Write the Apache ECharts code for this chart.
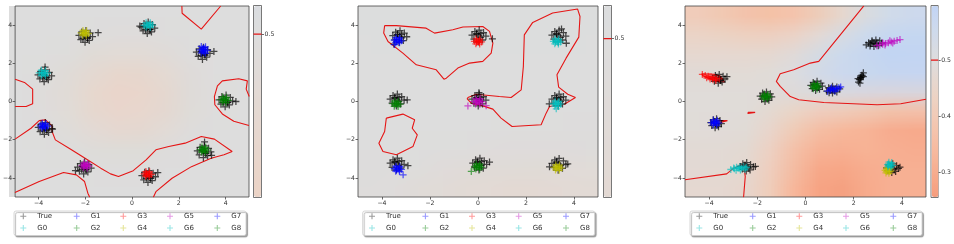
<!DOCTYPE html>
<html><head><meta charset="utf-8">
<script src="https://cdn.jsdelivr.net/npm/echarts@6/dist/echarts.min.js"></script>
<style>
html,body{margin:0;padding:0;background:#fff;width:954px;height:244px;overflow:hidden;}
#main{position:absolute;left:0;top:0;width:954px;height:244px;z-index:2;}
.heat{position:absolute;width:10px;height:10px;transform-origin:0 0;z-index:1;}
</style></head><body>
<div id="h1" class="heat"></div><div id="h2" class="heat"></div><div id="h3" class="heat"></div>
<div id="main"></div>
<script>
// ---------------- DATA ----------------
const SERIES_NAMES = ['True','G0','G1','G2','G3','G4','G5','G6','G7','G8'];
const AXIS_TICKS = [-4,-2,0,2,4];
const CONTOUR_LEVEL = 0.5;
const CBAR1_RANGE = [0.44, 0.5105];  const CBAR1_TICKS = [0.5];
const CBAR2_RANGE = [0.475, 0.5052]; const CBAR2_TICKS = [0.5];
const CBAR3_RANGE = [0.256, 0.597];  const CBAR3_TICKS = [0.3, 0.4, 0.5];
const CELL_CENTERS = [-4.5,-3.5,-2.5,-1.5,-0.5,0.5,1.5,2.5,3.5,4.5];

// background fields, rows from y=4.5 (top) to y=-4.5, columns x=-4.5..4.5
const P1_FIELD = [
 [0.50,0.50,0.50,0.50,0.50,0.50,0.50,0.50,0.50,0.50],
 [0.50,0.50,0.50,0.50,0.50,0.50,0.50,0.50,0.50,0.50],
 [0.50,0.50,0.50,0.49,0.485,0.485,0.49,0.50,0.50,0.50],
 [0.50,0.50,0.49,0.475,0.465,0.465,0.475,0.49,0.50,0.50],
 [0.50,0.495,0.485,0.465,0.45,0.45,0.465,0.485,0.50,0.50],
 [0.50,0.495,0.485,0.465,0.45,0.45,0.465,0.485,0.495,0.50],
 [0.50,0.50,0.49,0.475,0.465,0.465,0.475,0.49,0.50,0.50],
 [0.50,0.50,0.50,0.49,0.485,0.485,0.49,0.50,0.50,0.50],
 [0.50,0.50,0.50,0.50,0.495,0.495,0.50,0.50,0.50,0.50],
 [0.50,0.50,0.50,0.50,0.50,0.50,0.50,0.50,0.50,0.50]
];
const P2_FIELD = [
 [0.503,0.503,0.503,0.503,0.503,0.503,0.503,0.503,0.503,0.503],
 [0.502,0.502,0.502,0.502,0.502,0.502,0.502,0.502,0.502,0.502],
 [0.501,0.501,0.501,0.501,0.501,0.501,0.501,0.501,0.501,0.501],
 [0.500,0.500,0.500,0.500,0.500,0.500,0.500,0.500,0.500,0.500],
 [0.500,0.500,0.500,0.500,0.500,0.500,0.500,0.500,0.500,0.500],
 [0.500,0.500,0.500,0.500,0.500,0.500,0.500,0.500,0.500,0.500],
 [0.500,0.500,0.500,0.500,0.500,0.500,0.499,0.499,0.499,0.499],
 [0.500,0.500,0.500,0.500,0.500,0.498,0.495,0.495,0.495,0.495],
 [0.500,0.500,0.498,0.495,0.490,0.488,0.487,0.487,0.488,0.490],
 [0.495,0.495,0.490,0.485,0.480,0.478,0.476,0.475,0.478,0.480]
];
const P3_FIELD = [
 [0.40,0.38,0.36,0.34,0.35,0.38,0.43,0.49,0.53,0.55],
 [0.44,0.43,0.42,0.41,0.42,0.45,0.50,0.55,0.57,0.58],
 [0.46,0.46,0.46,0.46,0.47,0.51,0.55,0.57,0.59,0.59],
 [0.48,0.48,0.48,0.48,0.50,0.54,0.57,0.58,0.59,0.59],
 [0.49,0.49,0.49,0.49,0.50,0.53,0.55,0.56,0.56,0.56],
 [0.49,0.49,0.49,0.48,0.46,0.45,0.44,0.43,0.41,0.40],
 [0.49,0.49,0.49,0.47,0.42,0.37,0.35,0.33,0.30,0.29],
 [0.48,0.48,0.48,0.45,0.39,0.33,0.32,0.33,0.31,0.30],
 [0.48,0.48,0.48,0.44,0.37,0.30,0.29,0.31,0.32,0.31],
 [0.47,0.47,0.47,0.43,0.35,0.28,0.26,0.29,0.31,0.31]
];

// contour lines at level 0.5
const P1_CONTOURS = [
 [[2.13,5.0],[2.14,4.62],[2.96,3.79],[3.79,5.0]],
 [[-5.0,1.17],[-4.60,1.0],[-4.25,0.65],[-4.25,-0.12],[-4.53,-0.26],[-5.0,-0.26]],
 [[5.01,0.26],[4.88,0.65],[4.93,1.08],[4.56,1.19],[3.86,1.08],[3.65,0.82],[3.52,0.26],[3.54,-0.17],[3.86,-0.65],[4.35,-1.03],[5.0,-1.26]],
 [[-5.0,-1.97],[-4.32,-1.40],[-3.97,-1.00],[-3.70,-0.96],[-3.42,-1.28],[-3.42,-1.57],[-3.28,-2.01],[-2.59,-2.53],[-1.89,-3.06],[-1.34,-3.49],[-0.92,-3.79],[-0.58,-3.93],[0.05,-3.62],[0.60,-3.06],[1.02,-2.53],[1.57,-2.36],[2.27,-2.18],[2.96,-1.83],[3.52,-1.97],[4.28,-2.62],[3.93,-2.79],[3.38,-2.97],[2.54,-3.41],[1.71,-4.02],[1.02,-4.72],[0.91,-5.01]],
 [[-5.01,-4.77],[-3.97,-4.19],[-2.93,-3.72],[-2.38,-3.84],[-2.03,-4.19],[-1.89,-4.80],[-1.81,-5.01]]
];
const P2_CONTOURS = [
 [[-3.89,3.97],[-3.40,3.97],[-2.16,3.84],[-1.81,3.58],[-1.05,3.76],[-0.63,3.90],[0.20,3.93],[0.48,3.67],[0.62,3.06],[0.55,2.53],[0.20,2.10],[-0.35,2.01],[-0.84,1.75],[-1.32,1.22],[-1.42,1.17],[-1.74,1.66],[-2.57,1.92],[-3.13,2.53],[-3.75,3.14],[-3.93,3.58],[-3.89,3.97]],
 [[-0.42,0.21],[-0.08,0.38],[0.89,0.26],[1.38,0.21],[1.80,0.61],[1.89,1.83],[1.93,3.49],[2.28,4.14],[3.11,4.63],[4.15,4.84],[4.25,4.45],[4.20,3.37],[3.67,2.27],[3.29,1.40],[3.36,0.75],[3.74,0.38],[4.06,0.21],[3.60,-0.14],[2.98,-0.26],[2.84,-0.61],[2.63,-1.22],[1.42,-1.31],[0.96,-0.87],[0.62,-0.40],[0.20,-0.23],[-0.28,-0.09],[-0.45,0.14],[-0.42,0.21]],
 [[-3.82,-0.87],[-3.13,-0.66],[-2.64,-0.96],[-2.74,-1.40],[-2.53,-1.75],[-2.71,-2.36],[-3.40,-2.79],[-3.96,-2.62],[-4.13,-2.18],[-3.89,-1.57],[-3.82,-0.87]]
];
const P3_CONTOURS = [
 [[2.42,5.01],[0.55,2.10],[0.20,2.01],[-0.49,1.66],[-1.05,1.45],[-1.21,1.05],[-1.05,0.79],[-0.63,0.26],[-0.28,0.09],[0.76,-0.05],[2.97,-0.17],[3.95,-0.12],[5.0,0.12]],
 [[-5.0,-4.10],[-3.27,-3.79],[-2.98,-3.49],[-2.57,-3.27],[-2.50,-3.93],[-2.57,-5.01]],
 [[-4.31,1.45],[-3.80,1.43],[-3.52,1.32],[-3.36,1.02],[-3.70,1.06],[-4.25,1.34],[-4.31,1.45]],
 [[-3.62,-1.00],[-3.24,-1.00],[-3.52,-1.10]],
 [[-2.39,-0.57],[-2.09,-0.57],[-2.09,-0.63],[-2.39,-0.63],[-2.39,-0.57]]
];

// scatter points: real samples ("True") and generated clusters G0..G8
const P1_TRUE = [
 [-2.27,3.46],[-2.15,3.64],[-1.97,3.72],[-1.79,3.59],[-1.69,3.40],[-1.83,3.20],[-2.01,3.10],[-2.19,3.24],[-1.99,3.42],[-1.45,3.60],[-2.10,3.30],[-1.90,3.30],[-2.07,3.50],[-1.91,3.34],
 [0.39,3.90],[0.51,4.08],[0.69,4.16],[0.87,4.03],[0.97,3.84],[0.83,3.64],[0.65,3.56],[0.47,3.70],[0.67,3.86],[0.33,3.95],[0.58,3.76],[0.78,3.76],[0.59,3.94],[0.75,3.78],
 [2.75,2.58],[2.87,2.76],[3.05,2.84],[3.23,2.71],[3.33,2.52],[3.19,2.32],[3.01,2.20],[2.83,2.36],[3.03,2.55],[3.50,2.62],[2.95,2.42],[3.12,2.42],[2.95,2.63],[3.11,2.47],
 [-4.02,1.40],[-3.90,1.58],[-3.72,1.66],[-3.54,1.53],[-3.44,1.34],[-3.58,1.14],[-3.76,1.04],[-3.94,1.18],[-3.74,1.36],[-3.72,1.80],[-3.82,1.24],[-3.64,1.24],[-3.82,1.44],[-3.66,1.28],
 [3.72,0.08],[3.84,0.26],[4.02,0.34],[4.20,0.21],[4.30,0.02],[4.16,-0.18],[3.98,-0.28],[3.80,-0.14],[4.00,0.04],[4.44,0.00],[4.10,-0.06],[3.90,-0.06],[3.92,0.12],[4.08,-0.04],
 [-4.01,-1.36],[-3.89,-1.18],[-3.71,-1.10],[-3.53,-1.23],[-3.43,-1.42],[-3.57,-1.62],[-3.75,-1.72],[-3.93,-1.58],[-3.73,-1.40],[-3.40,-1.45],[-3.82,-1.50],[-3.64,-1.50],[-3.81,-1.32],[-3.65,-1.48],
 [-2.33,-3.43],[-2.21,-3.25],[-2.03,-3.17],[-1.85,-3.30],[-1.75,-3.49],[-1.89,-3.69],[-2.07,-3.79],[-2.25,-3.65],[-2.05,-3.47],[-2.42,-3.62],[-2.15,-3.56],[-1.96,-3.58],[-2.13,-3.39],[-1.97,-3.55],
 [0.42,-3.88],[0.54,-3.70],[0.72,-3.62],[0.90,-3.75],[1.00,-3.94],[0.86,-4.14],[0.68,-4.24],[0.50,-4.10],[0.70,-3.92],[1.10,-3.72],[0.61,-4.02],[0.80,-4.02],[0.62,-3.84],[0.78,-4.00],
 [2.79,-2.58],[2.91,-2.40],[3.09,-2.32],[3.27,-2.45],[3.37,-2.64],[3.23,-2.84],[3.05,-2.94],[2.87,-2.80],[3.07,-2.62],[3.40,-2.82],[3.10,-2.12],[3.16,-2.72],[2.99,-2.54],[3.15,-2.70]
];
const P1_G0 = [[0.52,3.98],[0.60,4.12],[0.78,4.12],[0.88,4.00],[0.78,3.88],[0.60,3.90],[0.70,4.00],[0.64,4.05],[0.76,4.05],[0.64,3.95],[0.76,3.95]];
const P1_G1 = [[2.90,2.70],[2.96,2.88],[3.14,2.86],[3.22,2.68],[3.14,2.52],[2.96,2.54],[3.06,2.70],[3.06,2.82],[3.06,2.58],[3.00,2.76],[3.12,2.76],[3.00,2.64],[3.12,2.64]];
const P1_G2 = [[3.80,0.10],[3.88,0.24],[4.04,0.22],[4.12,0.06],[4.02,-0.06],[3.86,-0.04],[3.96,0.09],[3.90,0.14],[4.02,0.14],[3.90,0.04],[4.02,0.04]];
const P1_G3 = [[0.52,-3.79],[0.59,-3.67],[0.75,-3.68],[0.82,-3.82],[0.73,-3.93],[0.58,-3.91],[0.67,-3.80],[0.61,-3.75],[0.73,-3.75],[0.61,-3.85],[0.73,-3.85]];
const P1_G4 = [[-2.18,3.59],[-2.10,3.72],[-1.94,3.70],[-1.87,3.56],[-1.96,3.45],[-2.12,3.47],[-2.03,3.58],[-2.09,3.63],[-1.97,3.63],[-2.09,3.53],[-1.97,3.53]];
const P1_G5 = [[-2.14,-3.36],[-2.06,-3.22],[-1.90,-3.24],[-1.83,-3.38],[-1.92,-3.49],[-2.08,-3.47],[-1.99,-3.35],[-2.05,-3.30],[-1.93,-3.30],[-2.05,-3.40],[-1.93,-3.40]];
const P1_G6 = [[-3.97,1.50],[-3.88,1.63],[-3.70,1.62],[-3.62,1.48],[-3.70,1.35],[-3.88,1.36],[-3.79,1.48],[-3.85,1.53],[-3.73,1.53],[-3.85,1.43],[-3.73,1.43]];
const P1_G7 = [[-3.92,-1.27],[-3.84,-1.14],[-3.68,-1.15],[-3.61,-1.29],[-3.70,-1.40],[-3.86,-1.40],[-3.77,-1.28],[-3.83,-1.23],[-3.71,-1.23],[-3.83,-1.33],[-3.71,-1.33]];
const P1_G8 = [[2.91,-2.52],[2.99,-2.38],[3.15,-2.40],[3.22,-2.55],[3.13,-2.67],[2.97,-2.65],[3.06,-2.53],[3.00,-2.48],[3.12,-2.48],[3.00,-2.58],[3.12,-2.58]];

const P2_TRUE = [
 [-3.55,3.45],[-3.43,3.63],[-3.25,3.71],[-3.07,3.58],[-2.97,3.39],[-3.11,3.19],[-3.29,3.09],[-3.47,3.23],[-3.27,3.41],[-3.50,3.00],[-3.36,3.52],[-3.18,3.52],[-3.35,3.49],[-3.19,3.33],
 [-0.25,3.48],[-0.13,3.66],[0.05,3.74],[0.23,3.61],[0.33,3.42],[0.19,3.22],[0.01,3.12],[-0.17,3.26],[0.03,3.44],[0.60,3.28],[-0.06,3.55],[0.12,3.55],[-0.05,3.52],[0.11,3.36],
 [3.08,3.48],[3.20,3.66],[3.38,3.74],[3.56,3.61],[3.66,3.42],[3.52,3.22],[3.34,3.12],[3.16,3.26],[3.36,3.44],[3.68,3.05],[3.48,3.80],[3.27,3.55],[3.28,3.52],[3.44,3.36],
 [-3.66,0.13],[-3.54,0.31],[-3.36,0.39],[-3.18,0.26],[-3.08,0.07],[-3.22,-0.13],[-3.40,-0.23],[-3.58,-0.09],[-3.38,0.09],[-2.95,0.08],[-3.47,0.20],[-3.29,0.20],[-3.46,0.17],[-3.30,0.01],
 [-0.25,0.13],[-0.13,0.31],[0.05,0.39],[0.23,0.26],[0.33,0.07],[0.19,-0.13],[0.01,-0.23],[-0.17,-0.09],[0.03,0.09],[0.04,0.46],[-0.06,0.20],[0.12,0.20],[-0.05,0.17],[0.11,0.01],
 [3.08,0.13],[3.20,0.31],[3.38,0.39],[3.56,0.26],[3.66,0.07],[3.52,-0.13],[3.34,-0.23],[3.16,-0.09],[3.36,0.09],[2.97,-0.12],[3.27,0.20],[3.45,0.20],[3.28,0.17],[3.44,0.01],
 [-3.66,-3.23],[-3.54,-3.05],[-3.36,-2.97],[-3.18,-3.10],[-3.08,-3.29],[-3.22,-3.49],[-3.40,-3.59],[-3.58,-3.45],[-3.38,-3.27],[-2.92,-3.36],[-3.47,-3.15],[-3.29,-3.15],[-3.46,-3.19],[-3.30,-3.35],
 [-0.22,-3.23],[-0.10,-3.05],[0.08,-2.97],[0.26,-3.10],[0.36,-3.29],[0.22,-3.49],[0.04,-3.59],[-0.14,-3.45],[0.06,-3.27],[0.48,-3.17],[-0.03,-3.15],[0.15,-3.15],[-0.02,-3.19],[0.14,-3.35],
 [3.08,-3.24],[3.20,-3.06],[3.38,-2.98],[3.56,-3.11],[3.66,-3.30],[3.52,-3.50],[3.34,-3.60],[3.16,-3.46],[3.36,-3.28],[3.74,-3.27],[2.98,-3.42],[3.27,-3.16],[3.28,-3.20],[3.44,-3.36]
];
const P2_G0 = [[3.14,3.15],[3.21,3.28],[3.37,3.27],[3.44,3.12],[3.35,3.01],[3.20,3.02],[3.29,3.14],[3.23,3.19],[3.35,3.19],[3.23,3.09],[3.35,3.09]];
const P2_G1 = [[-3.49,3.21],[-3.42,3.34],[-3.26,3.33],[-3.19,3.18],[-3.27,3.07],[-3.43,3.08],[-3.34,3.20],[-3.48,2.98],[-3.40,3.25],[-3.28,3.25],[-3.40,3.15],[-3.28,3.15]];
const P2_G2 = [[-3.55,-0.11],[-3.48,0.02],[-3.32,0.01],[-3.25,-0.14],[-3.33,-0.26],[-3.49,-0.25],[-3.40,-0.12],[-3.46,-0.07],[-3.34,-0.07],[-3.46,-0.17],[-3.34,-0.17]];
const P2_G3 = [[-0.15,3.15],[-0.08,3.28],[0.08,3.27],[0.15,3.12],[0.07,3.01],[-0.09,3.02],[0.00,3.14],[-0.06,3.19],[0.06,3.19],[-0.06,3.09],[0.06,3.09]];
const P2_G4 = [[3.17,-3.45],[3.24,-3.32],[3.40,-3.33],[3.47,-3.48],[3.39,-3.60],[3.23,-3.58],[3.32,-3.46],[3.26,-3.41],[3.38,-3.41],[3.26,-3.51],[3.38,-3.51]];
const P2_G5 = [[-0.18,0.01],[-0.09,0.15],[0.09,0.14],[0.18,-0.01],[0.08,-0.14],[-0.10,-0.13],[0.00,0.00],[-0.42,-0.23],[0.34,-0.22],[-0.06,0.05],[0.06,0.05],[-0.06,-0.05],[0.06,-0.05]];
const P2_G6 = [[3.14,-0.11],[3.21,0.02],[3.37,0.01],[3.44,-0.14],[3.35,-0.26],[3.20,-0.25],[3.29,-0.12],[3.26,-0.38],[3.23,-0.07],[3.35,-0.07],[3.23,-0.17],[3.35,-0.17]];
const P2_G7 = [[-3.49,-3.52],[-3.42,-3.39],[-3.26,-3.40],[-3.19,-3.55],[-3.27,-3.67],[-3.43,-3.65],[-3.34,-3.53],[-3.12,-3.84],[-3.40,-3.48],[-3.28,-3.48],[-3.40,-3.58],[-3.28,-3.58]];
const P2_G8 = [[-0.15,-3.40],[-0.08,-3.27],[0.08,-3.28],[0.15,-3.43],[0.07,-3.55],[-0.09,-3.53],[0.00,-3.41],[-0.28,-3.66],[-0.06,-3.36],[0.06,-3.36],[-0.06,-3.46],[0.06,-3.46]];

const P3_TRUE = [
 [-3.86,1.22],[-3.74,1.36],[-3.58,1.42],[-3.42,1.32],[-3.34,1.18],[-3.46,1.02],[-3.62,0.96],[-3.78,1.06],[-3.61,1.18],[-3.26,1.30],[-3.52,1.12],[-3.69,1.26],[-3.53,1.10],
 [-3.93,-1.10],[-3.83,-0.96],[-3.69,-0.90],[-3.55,-1.00],[-3.49,-1.16],[-3.61,-1.32],[-3.75,-1.38],[-3.89,-1.26],[-3.71,-1.14],[-3.79,-1.06],[-3.63,-1.22],
 [-1.88,0.28],[-1.78,0.44],[-1.62,0.50],[-1.46,0.40],[-1.40,0.24],[-1.52,0.06],[-1.68,0.00],[-1.82,0.12],[-1.64,0.26],[-1.72,0.34],[-1.56,0.18],
 [-2.70,-3.40],[-2.60,-3.26],[-2.44,-3.20],[-2.28,-3.30],[-2.16,-3.42],[-2.30,-3.58],[-2.46,-3.64],[-2.62,-3.54],[-2.43,-3.41],[-2.08,-3.40],[-2.51,-3.33],[-2.35,-3.49],
 [0.22,0.84],[0.32,1.00],[0.48,1.06],[0.64,0.96],[0.70,0.80],[0.58,0.64],[0.42,0.58],[0.28,0.68],[0.45,0.82],[0.37,0.90],[0.53,0.74],
 [0.88,0.54],[0.96,0.72],[1.12,0.80],[1.30,0.76],[1.42,0.66],[1.30,0.50],[1.12,0.44],[0.98,0.46],[1.13,0.61],[1.05,0.66],[1.21,0.56],
 [2.20,1.02],[2.24,1.14],[2.28,1.26],[2.34,1.38],[2.40,1.50],[2.18,1.20],[2.40,1.30],[2.31,1.26],[2.26,0.96],[2.27,1.18],[2.35,1.34],
 [2.52,2.96],[2.62,3.08],[2.76,3.18],[2.92,3.22],[3.08,3.18],[3.16,3.06],[3.02,2.92],[2.84,2.88],[2.68,2.90],[2.84,3.06],[2.96,3.06],[2.70,3.02],[2.76,3.12],[2.92,3.00],
 [3.36,-3.48],[3.46,-3.32],[3.62,-3.26],[3.78,-3.36],[3.86,-3.50],[3.74,-3.66],[3.58,-3.72],[3.42,-3.62],[3.60,-3.49],[3.92,-3.44],[3.52,-3.41],[3.68,-3.57]
];
const P3_G0 = [[-3.10,-3.56],[-2.98,-3.48],[-2.86,-3.44],[-2.72,-3.42],[-2.58,-3.40],[-2.44,-3.44],[-2.52,-3.56],[-2.70,-3.58],[-2.88,-3.60],[-2.75,-3.50],[-2.95,-3.52],[-2.80,-3.50],[-2.65,-3.48],[-2.50,-3.48]];
const P3_G1 = [[-3.90,-1.10],[-3.82,-0.97],[-3.66,-0.98],[-3.60,-1.12],[-3.68,-1.24],[-3.84,-1.23],[-3.75,-1.10],[-3.81,-1.05],[-3.69,-1.05],[-3.81,-1.15],[-3.69,-1.15]];
const P3_G2 = [[-1.78,0.27],[-1.71,0.39],[-1.56,0.38],[-1.50,0.24],[-1.58,0.13],[-1.73,0.14],[-1.64,0.26],[-1.70,0.31],[-1.58,0.31],[-1.70,0.21],[-1.58,0.21]];
const P3_G3 = [[-4.28,1.42],[-4.16,1.36],[-4.04,1.32],[-3.92,1.30],[-3.80,1.26],[-3.68,1.22],[-3.58,1.18],[-3.96,1.18],[-3.84,1.14],[-3.72,1.10],[-4.10,1.24],[-4.00,1.28],[-3.86,1.22],[-3.74,1.18]];
const P3_G4 = [[3.30,-3.60],[3.36,-3.48],[3.50,-3.50],[3.54,-3.64],[3.46,-3.76],[3.34,-3.74],[3.42,-3.62],[3.36,-3.57],[3.48,-3.57],[3.36,-3.67],[3.48,-3.67]];
const P3_G5 = [[2.96,2.92],[3.08,2.96],[3.20,3.00],[3.32,3.04],[3.44,3.08],[3.56,3.12],[3.68,3.16],[3.80,3.20],[3.92,3.24],[3.30,2.96],[3.50,3.18],[3.20,3.08],[3.62,3.06]];
const P3_G6 = [[3.40,-3.30],[3.46,-3.18],[3.58,-3.20],[3.62,-3.34],[3.54,-3.44],[3.42,-3.42],[3.50,-3.32],[3.44,-3.27],[3.56,-3.27],[3.44,-3.37],[3.56,-3.37]];
const P3_G7 = [[0.92,0.54],[1.02,0.58],[1.14,0.62],[1.26,0.68],[1.38,0.72],[1.46,0.76],[1.08,0.72],[1.22,0.54],[1.17,0.65],[1.05,0.64],[1.30,0.66]];
const P3_G8 = [[0.28,0.80],[0.35,0.93],[0.50,0.92],[0.56,0.78],[0.48,0.66],[0.33,0.67],[0.42,0.79],[0.36,0.84],[0.48,0.84],[0.36,0.74],[0.48,0.74]];

// ---------------- STYLE / LAYOUT ----------------
const RGB = {True:'0,0,0', G0:'0,191,191', G1:'0,0,255', G2:'0,128,0', G3:'255,0,0', G4:'191,191,0',
  G5:'191,0,191', G6:'0,191,191', G7:'0,0,255', G8:'0,128,0'};
const TRUE_ALPHA = 0.85, GEN_ALPHA = 0.8, LEGEND_ALPHA = 0.5;
const PLUS = 'path://M0,41H100V59H0Z M41,0H59V100H41Z';
const FONT = 'DejaVu Sans';
const PLOTS = [{left:9,top:6,width:240,height:191},{left:358,top:6,width:240,height:191},{left:685,top:6,width:241,height:191}];
const CBARS = [{left:254,top:6,width:7,height:191},{left:604,top:6,width:7,height:191},{left:931.5,top:6,width:7,height:191}];
const LEG_L = [14, 362.7, 690];
const LEG_COL_X = [9.3, 62.7, 109.3, 156, 203.3];
const LEG_COLS = [['True','G0'],['G1','G2'],['G3','G4'],['G5','G6'],['G7','G8']];
const LEG_ICON = 6;

const COOLWARM = [[59,76,192],[68,90,204],[77,104,215],[87,117,225],[98,130,234],[108,142,241],[119,154,247],[130,165,251],[141,176,254],[152,185,255],[163,194,255],[174,201,253],[184,208,249],[194,213,244],[204,217,238],[213,219,230],[221,221,221],[229,216,209],[236,211,197],[241,204,185],[245,196,173],[247,187,160],[247,177,148],[247,166,135],[244,154,123],[241,141,111],[236,127,99],[229,112,88],[222,96,77],[213,80,66],[203,62,56],[192,40,47],[180,4,38]];
function cw(t){ t=Math.max(0,Math.min(1,t)); const f=t*32; const i=Math.min(31,Math.floor(f)); const u=f-i;
  const a=COOLWARM[i], b=COOLWARM[i+1]; return 'rgb('+[0,1,2].map(k=>Math.round(a[k]+(b[k]-a[k])*u)).join(',')+')'; }
function cmap(v){ return cw(1-v); } // coolwarm_r, norm 0..1
function ramp(lo,hi,n){ const out=[]; for(let i=0;i<=n;i++) out.push(cmap(lo+(hi-lo)*i/n)); return out; }

// ---------------- BACKGROUND FIELDS ----------------
function drawHeat(id, field, plot){
  const el=document.getElementById(id);
  el.style.left=plot.left+'px'; el.style.top=plot.top+'px';
  el.style.transform='scale('+(plot.width/10)+','+(plot.height/10)+')';
  const ch=echarts.init(el,null,{renderer:'canvas',width:10,height:10});
  const data=[];
  field.forEach((row,r)=>row.forEach((v,c)=>data.push([c, field.length-1-r, v])));
  ch.setOption({animation:false, grid:{left:0,right:0,top:0,bottom:0},
    xAxis:{type:'category',data:CELL_CENTERS,show:false},
    yAxis:{type:'category',data:CELL_CENTERS,show:false},
    visualMap:{show:false,min:0,max:1,inRange:{color:ramp(0,1,64)}},
    series:[{type:'heatmap',data:data,itemStyle:{borderWidth:0},emphasis:{disabled:true},silent:true}]});
}
drawHeat('h1',P1_FIELD,PLOTS[0]);
drawHeat('h2',P2_FIELD,PLOTS[1]);
drawHeat('h3',P3_FIELD,PLOTS[2]);

// ---------------- MAIN CHART ----------------
const minus = v => (v<0?'\u2212':'')+Math.abs(v);
const panels = [
  {true:P1_TRUE, gens:[P1_G0,P1_G1,P1_G2,P1_G3,P1_G4,P1_G5,P1_G6,P1_G7,P1_G8], contours:P1_CONTOURS},
  {true:P2_TRUE, gens:[P2_G0,P2_G1,P2_G2,P2_G3,P2_G4,P2_G5,P2_G6,P2_G7,P2_G8], contours:P2_CONTOURS},
  {true:P3_TRUE, gens:[P3_G0,P3_G1,P3_G2,P3_G3,P3_G4,P3_G5,P3_G6,P3_G7,P3_G8], contours:P3_CONTOURS}
];
const cbRanges=[CBAR1_RANGE,CBAR2_RANGE,CBAR3_RANGE], cbTicks=[CBAR1_TICKS,CBAR2_TICKS,CBAR3_TICKS];

const grid=[], xAxis=[], yAxis=[], series=[], visualMap=[], legend=[], graphics=[];
PLOTS.forEach((p,i)=>{
  grid.push({left:p.left,top:p.top,width:p.width,height:p.height,show:true,borderColor:'#444',borderWidth:0.8,backgroundColor:'transparent'});
  const mk = () => ({gridIndex:i,type:'value',min:-5,max:5,axisLine:{show:false,onZero:false},splitLine:{show:false},
    axisTick:{show:true,length:2.5,customValues:AXIS_TICKS,lineStyle:{color:'#444',width:0.8}},
    axisLabel:{customValues:AXIS_TICKS,formatter:minus,fontSize:6.2,color:'#333',margin:3,fontFamily:FONT}});
  xAxis.push(Object.assign(mk(),{position:'bottom'}));
  yAxis.push(Object.assign(mk(),{position:'left'}));
});
CBARS.forEach((c,k)=>{
  const gi=3+k;
  grid.push({left:c.left-0.5,top:c.top-0.5,width:c.width+1,height:c.height+1,show:true,borderColor:'#555',borderWidth:0.8,backgroundColor:'transparent'});
  xAxis.push({gridIndex:gi,type:'value',min:0,max:1,show:false,axisLine:{onZero:false}});
  yAxis.push({gridIndex:gi,type:'value',position:'right',min:cbRanges[k][0],max:cbRanges[k][1],
    axisLine:{show:false,onZero:false},splitLine:{show:false},
    axisTick:{show:true,length:2.5,customValues:cbTicks[k],lineStyle:{color:'#444',width:0.8}},
    axisLabel:{customValues:cbTicks[k],formatter:v=>v.toFixed(1),fontSize:6.2,color:'#333',margin:3,fontFamily:FONT}});
  visualMap.push({type:'continuous',seriesIndex:[],min:cbRanges[k][0],max:cbRanges[k][1],
    inRange:{color:ramp(cbRanges[k][0],cbRanges[k][1],24)},left:c.left,top:c.top,itemWidth:c.width,itemHeight:c.height,
    calculable:false,padding:0,hoverLink:false,orient:'vertical',z:3});
  series.push({type:'line',xAxisIndex:gi,yAxisIndex:gi,data:[[0,CONTOUR_LEVEL],[1,CONTOUR_LEVEL]],
    showSymbol:false,symbol:'none',silent:true,z:10,lineStyle:{color:'#e51515',width:1.3},animation:false});
});
panels.forEach((pn,i)=>{
  pn.contours.forEach(poly=>{
    series.push({type:'line',xAxisIndex:i,yAxisIndex:i,data:poly,showSymbol:false,symbol:'none',silent:true,z:2,
      clip:true,lineStyle:{color:'#e51515',width:1.1},animation:false});
  });
  series.push({type:'scatter',name:'True',xAxisIndex:i,yAxisIndex:i,data:pn.true,symbol:PLUS,symbolSize:7,silent:true,z:3,
    itemStyle:{color:'rgba('+RGB.True+','+TRUE_ALPHA+')'},animation:false});
  pn.gens.forEach((g,j)=>{
    const nm='G'+j;
    series.push({type:'scatter',name:nm,xAxisIndex:i,yAxisIndex:i,data:g,symbol:PLUS,symbolSize:7,silent:true,z:4,
      itemStyle:{color:'rgba('+RGB[nm]+','+GEN_ALPHA+')'},animation:false});
  });
});
LEG_L.forEach((L)=>{
  graphics.push({type:'rect',shape:{x:L,y:211,width:232,height:24.5,r:2},z:0,silent:true,
    style:{fill:'#fff',stroke:'#cccccc',lineWidth:0.8,shadowColor:'rgba(0,0,0,0.35)',shadowOffsetX:1.5,shadowOffsetY:1.5,shadowBlur:1}});
  LEG_COLS.forEach((col,c)=>{
    legend.push({left:L+LEG_COL_X[c]-LEG_ICON/2,top:212.3,orient:'vertical',padding:0,itemGap:3.7,
      itemWidth:LEG_ICON,itemHeight:LEG_ICON,selectedMode:false,
      data:col.map(n=>({name:n,icon:PLUS,itemStyle:{color:'rgba('+RGB[n]+','+LEGEND_ALPHA+')'}})),
      textStyle:{fontSize:7,color:'#333',fontFamily:FONT,lineHeight:8,padding:[0,0,0,6]}});
  });
});

const chart=echarts.init(document.getElementById('main'),null,{renderer:'canvas'});
chart.setOption({animation:false,backgroundColor:'transparent',grid,xAxis,yAxis,series,visualMap,legend,graphic:{elements:graphics}});
</script></body></html>
